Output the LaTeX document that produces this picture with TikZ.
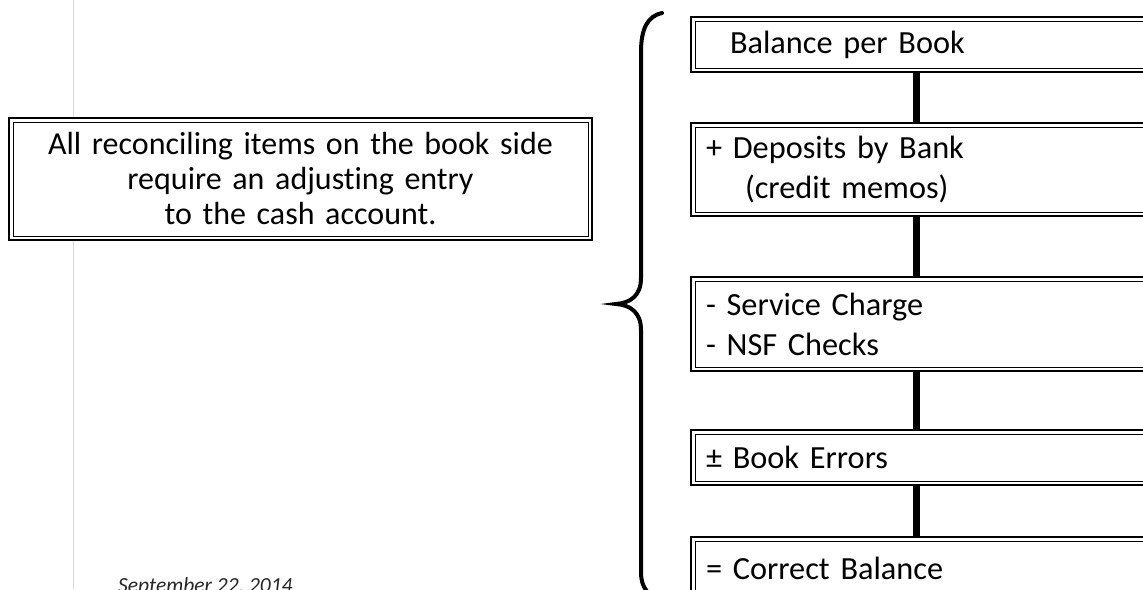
\documentclass[tikz,border=0pt]{standalone}
\usepackage{fontspec}
\setmainfont{Carlito}[Ligatures={NoCommon}]
\begin{document}
\begin{tikzpicture}[x=1pt,y=-1pt,
  box/.style={draw, line width=2.2pt, fill=white, inner sep=0pt, outer sep=0pt,
    minimum width=464pt, text width=434pt, align=left,
    font=\fontsize{32.3}{40}\selectfont},
  inner/.style={line width=0.9pt},
  conn/.style={line width=7pt},
  bracestyle/.style={line width=4pt, line cap=round},
  margin/.style={black!15, line width=1pt}]
\useasboundingbox (0,0) rectangle (1143,589);
\clip (0,0) rectangle (1143,589);
\fill[white] (0,0) rectangle (1143,589);
\draw[margin] (73,0) -- (73,589);
% boxes
\node[box, minimum height=55pt] (b1) at (923,44.5) {\hspace*{24pt}Balance per Book};
\node[box, minimum height=93pt] (b2) at (923,169.5) {+ Deposits by Bank\\\hspace*{39pt}(credit memos)};
\node[box, minimum height=94pt] (b3) at (923,324) {- Service Charge\\- NSF Checks};
\node[box, minimum height=55pt] (b4) at (923,457.5) {± Book Errors};
\node[box, minimum height=63pt] (b5) at (923,568.5) {= Correct Balance};
\node[box, align=center, text width=560pt, minimum width=583pt, minimum height=122pt,
  font=\fontsize{32}{35}\selectfont] (note) at (300.5,179)
  {All reconciling items on the book side\\require an adjusting entry\\to the cash account.};
\foreach \n in {b1,b2,b3,b4,b5,note}
  \draw[inner] ([shift={(4,-4)}]\n.south west) rectangle ([shift={(-4,4)}]\n.north east);
% connectors
\coordinate (cx) at (916,0);
\draw[conn] (b1.south -| cx) -- (b2.north -| cx);
\draw[conn] (b2.south -| cx) -- (b3.north -| cx);
\draw[conn] (b3.south -| cx) -- (b4.north -| cx);
\draw[conn] (b4.south -| cx) -- (b5.north -| cx);
% brace
\draw[bracestyle] (662,13) .. controls (648,16) and (641,28) .. (641,52)
  -- (641,278) .. controls (641,296) and (630,303) .. (616,304)
  .. controls (630,305) and (641,312) .. (641,330)
  -- (641,572) .. controls (641,588) and (648,596) .. (662,599);
% date
\node[anchor=base west, inner sep=0pt, font=\fontsize{21.5}{24}\selectfont\itshape,
  text=black!85] (date) at (118,592) {September 22, 2014};
\end{tikzpicture}
\end{document}
